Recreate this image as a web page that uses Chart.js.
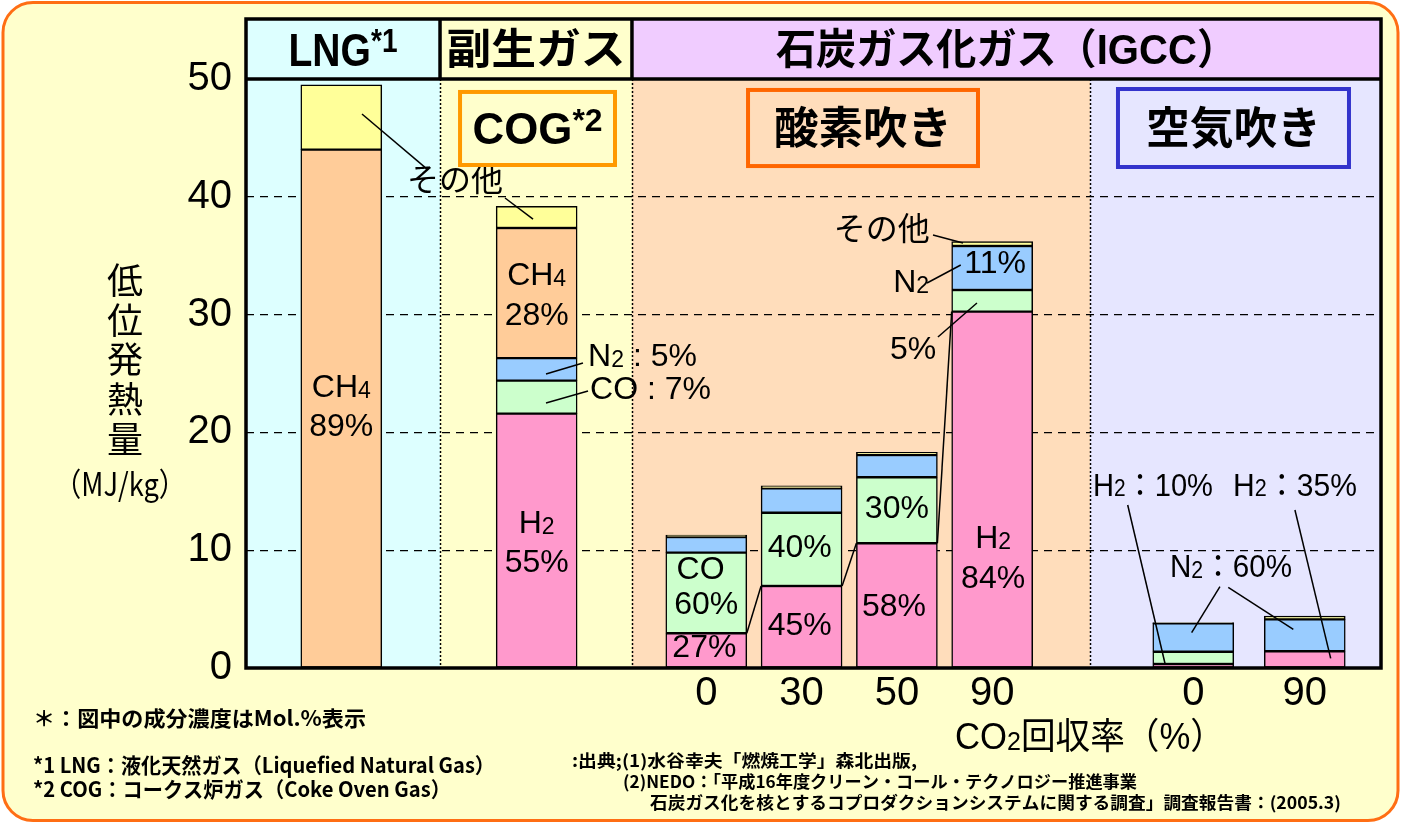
<!DOCTYPE html>
<html lang="ja">
<head>
<meta charset="utf-8">
<title>低位発熱量</title>
<script src="https://cdn.jsdelivr.net/npm/chart.js@4.4.1/dist/chart.umd.min.js"></script>
<style>
html, body { margin: 0; padding: 0; background: #fff; }
#wrap { width: 1402px; height: 823px; }
</style>
</head>
<body>
<div id="wrap"><canvas id="myChart" width="1402" height="823"></canvas></div>
<script>
// gas kinds, CO2 recovery ticks, and heating value per component (MJ/kg)
var categories = ["LNG", "COG", "酸素吹き0", "酸素吹き30", "酸素吹き50", "酸素吹き90", "空気吹き0", "空気吹き90"];
var tickLabels = ["", "", "0", "30", "50", "90", "0", "90"];
var yTicks = [0, 10, 20, 30, 40, 50];

var h2     = [null, 21.6, 2.95, 6.96, 10.59, 30.25, 0.34, 1.42];
var co     = [null, 2.8, 6.84, 6.22, 5.6, 1.84, 1.04, null];
var n2     = [null, 1.9, 1.33, 2.07, 1.89, 3.73, 2.41, 2.71];
var ch4    = [44.0, 11.05, null, null, null, null, null, null];
var others = [5.5, 1.85, 0.17, 0.22, 0.23, 0.37, 0.06, 0.28];

// where each bar sits on the x axis
var slots = [1.0, 3.05, 4.83, 5.83, 6.83, 7.83, 9.94, 11.11];
var X_MAX = 11.91;
var colEdges = [0, 2.036, 4.05, 8.856, X_MAX];
var colFill = ["#DDFFFF", "#FFFFCC", "#FFDDBB", "#E6E6FF"];

var LATIN = "'Liberation Sans', 'Noto Sans CJK JP', sans-serif";
var CJK = "'Noto Sans CJK JP', sans-serif";

// labels in and around the bars: x, y, text ("_" = subscript), optional fitted width
var notes = [
    [1.0, 24.0, "CH_4"], [1.0, 20.7, "89%"],
    [3.05, 33.45, "CH_4"], [3.05, 30.1, "28%"],
    [3.05, 12.4, "H_2"], [3.05, 9.1, "55%"],
    [4.77, 8.57, "CO"], [4.83, 5.6, "60%"], [4.81, 1.95, "27%"],
    [5.81, 10.36, "40%"], [5.81, 3.74, "45%"],
    [6.83, 13.67, "30%"], [6.80, 5.35, "58%"],
    [7.86, 34.47, "11%"], [7.84, 11.2, "H_2"], [7.84, 7.81, "84%"],
    [6.98, 32.9, "N_2"], [7.0, 27.25, "5%"],
    [2.193, 41.43, "その他"], [6.67, 37.35, "その他"],
    [9.517, 15.62, "H_2：10%", 120], [11.007, 15.62, "H_2：35%", 124], [10.336, 8.74, "N_2：60%", 122]
];
var leftNotes = [
    [3.59, 26.6, "N_2 : 5%"], [3.61, 23.8, "CO : 7%"]
];
var leaders = [
    [1.217, 47.03, 1.91, 42.28],
    [2.718, 39.9, 3.012, 38.1],
    [3.148, 24.96, 3.536, 25.89],
    [3.148, 22.5, 3.589, 23.51],
    [7.209, 36.76, 7.524, 36.08],
    [7.146, 32.68, 7.50, 34.21],
    [7.261, 28.1, 7.67, 30.98],
    [9.252, 13.84, 9.643, 0.4],
    [11.007, 13.41, 11.382, 0.82],
    [10.22, 6.9, 9.923, 3.0],
    [10.307, 6.85, 10.99, 3.28]
];
var boxes = [
    [2.246, 48.9, 3.872, 42.7, "#FF9900", "COG^*2", 130],
    [5.268, 49.07, 7.681, 42.61, "#FF6600", "酸素吹き", 178],
    [9.15, 49.15, 11.574, 42.53, "#3333CC", "空気吹き", 175]
];
var headers = [
    [0, 2.036, "#DDFFFF", "LNG^*1", 0],
    [2.036, 4.05, "#FFFFCC", "副生ガス", 179],
    [4.05, X_MAX, "#F0CCFF", "石炭ガス化ガス（IGCC）", 461]
];
var footnotes = [
    ["＊：図中の成分濃度はMol.%表示", 33, 718, 333, 21],
    ["*1 LNG：液化天然ガス（Liquefied Natural Gas）", 33, 765, 462, 21],
    ["*2 COG：コークス炉ガス（Coke Oven Gas）", 33, 789, 418, 21],
    [":出典;(1)水谷幸夫「燃焼工学」森北出版,", 572, 761, 345, 17],
    ["(2)NEDO：「平成16年度クリーン・コール・テクノロジー推進事業", 623, 782, 514, 17],
    ["石炭ガス化を核とするコプロダクションシステムに関する調査」調査報告書：(2005.3)", 650, 803, 691, 17]
];

// text with "_x" subscripts and a "^..." superscript tail, y is the visual middle
function rich(ctx, s, x, y, size, o) {
    o = o || {};
    var fam = o.fam || LATIN, weight = o.weight || "normal", align = o.align || "center";
    var segs = [];
    for (var i = 0; i < s.length; i++) {
        var c = s[i];
        if (c === "_") { segs.push({ t: s[++i], k: "sub" }); }
        else if (c === "^") { segs.push({ t: s.slice(i + 1), k: "sup" }); break; }
        else if (segs.length && segs[segs.length - 1].k === "n") { segs[segs.length - 1].t += c; }
        else { segs.push({ t: c, k: "n" }); }
    }
    var fontOf = function (g) {
        return weight + " " + (g.k === "n" ? size : Math.round(size * 0.72)) + "px " + fam;
    };
    var w = 0;
    segs.forEach(function (g) { ctx.font = fontOf(g); g.w = ctx.measureText(g.t).width; w += g.w; });
    var sx = o.width ? o.width / w : (o.sx || 1);
    ctx.save();
    ctx.translate(x, y);
    ctx.scale(sx, 1);
    ctx.fillStyle = "#000";
    ctx.textAlign = "left";
    ctx.textBaseline = "alphabetic";
    var cx = align === "center" ? -w / 2 : (align === "right" ? -w : 0);
    segs.forEach(function (g) {
        ctx.font = fontOf(g);
        var dy = g.k === "sub" ? size * 0.03 : (g.k === "sup" ? -size * 0.3 : 0);
        ctx.fillText(g.t, cx, size * 0.36 + dy);
        cx += g.w;
    });
    ctx.restore();
}

function line(ctx, x1, y1, x2, y2) {
    ctx.beginPath();
    ctx.moveTo(x1, y1);
    ctx.lineTo(x2, y2);
    ctx.stroke();
}

var decor = {
    id: "decor",
    beforeDraw: function (chart) {
        var ctx = chart.ctx, a = chart.chartArea, xs = chart.scales.x;
        ctx.save();
        ctx.fillStyle = "#fff";
        ctx.fillRect(0, 0, chart.width, chart.height);
        ctx.beginPath();
        ctx.roundRect(3, 2.5, 1395, 818, 30);
        ctx.fillStyle = "#FFFFCC";
        ctx.fill();
        ctx.lineWidth = 3;
        ctx.strokeStyle = "#FF6E14";
        ctx.stroke();
        for (var i = 0; i < colFill.length; i++) {
            var l = xs.getPixelForValue(colEdges[i]), r = xs.getPixelForValue(colEdges[i + 1]);
            ctx.fillStyle = colFill[i];
            ctx.fillRect(l, a.top, r - l, a.bottom - a.top);
        }
        headers.forEach(function (h) {
            var l = xs.getPixelForValue(h[0]), r = xs.getPixelForValue(h[1]);
            ctx.fillStyle = h[2];
            ctx.fillRect(l, 19, r - l, a.top - 19);
        });
        ctx.restore();
    },
    afterDraw: function (chart) {
        var ctx = chart.ctx, a = chart.chartArea;
        var xs = chart.scales.x, ys = chart.scales.y;
        var X = function (v) { return xs.getPixelForValue(v); };
        var Y = function (v) { return ys.getPixelForValue(v); };
        ctx.save();
        ctx.strokeStyle = "#000";

        // dotted column separators
        ctx.lineWidth = 1.5;
        ctx.setLineDash([2, 2]);
        [1, 2, 3].forEach(function (i) {
            var px = Math.round(X(colEdges[i])) + 0.5;
            line(ctx, px, a.top, px, a.bottom);
        });
        ctx.setLineDash([]);

        // H2 level joined across the oxygen-blown bars
        var bars = chart.getDatasetMeta(0).data;
        ctx.lineWidth = 1.5;
        for (var i = 2; i < 5; i++) {
            var b1 = bars[i], b2 = bars[i + 1];
            line(ctx, b1.x + b1.width / 2, b1.y, b2.x - b2.width / 2, b2.y);
        }

        leaders.forEach(function (p) { line(ctx, X(p[0]), Y(p[1]), X(p[2]), Y(p[3])); });

        notes.forEach(function (n) { rich(ctx, n[2], X(n[0]), Y(n[1]), 32, { width: n[3] }); });
        leftNotes.forEach(function (n) { rich(ctx, n[2], X(n[0]), Y(n[1]), 32, { align: "left" }); });

        boxes.forEach(function (b) {
            var l = X(b[0]), t = Y(b[1]), r = X(b[2]), btm = Y(b[3]);
            ctx.lineWidth = 4;
            ctx.strokeStyle = b[4];
            ctx.strokeRect(l, t, r - l, btm - t);
            rich(ctx, b[5], (l + r) / 2, (t + btm) / 2, 44, { weight: "bold", width: b[6] });
        });

        // header row and frame
        headers.forEach(function (h) {
            var cx = (X(h[0]) + X(h[1])) / 2;
            if (h[4]) rich(ctx, h[3], cx, 49, 42, { weight: "bold", width: h[4] });
            else rich(ctx, h[3], cx, 49, 46, { weight: "bold", sx: 0.85 });
        });
        ctx.strokeStyle = "#000";
        ctx.lineWidth = 3.5;
        ctx.strokeRect(a.left, 19, a.right - a.left, a.bottom - 19);
        line(ctx, a.left, a.top, a.right, a.top);
        [1, 2].forEach(function (i) { line(ctx, X(colEdges[i]), 19, X(colEdges[i]), a.top); });

        // axis titles
        ["低", "位", "発", "熱", "量"].forEach(function (c, i) {
            rich(ctx, c, 125, 281 + i * 39.7, 36, { fam: CJK });
        });
        rich(ctx, "（MJ/kg）", 120, 484, 32, { fam: CJK, width: 132 });
        rich(ctx, "CO_2回収率（%）", 955, 736, 36, { align: "left", width: 270 });

        footnotes.forEach(function (f) {
            rich(ctx, f[0], f[1], f[2], f[4], { fam: CJK, weight: "bold", align: "left", width: f[3] });
        });
        ctx.restore();
    }
};

function series(label, values, color) {
    return {
        label: label,
        data: values.map(function (v, i) { return { x: slots[i], y: v }; }),
        backgroundColor: color,
        borderColor: "#000",
        borderWidth: 1.5,
        borderSkipped: false,
        barThickness: 81
    };
}

var ctx = document.getElementById("myChart").getContext("2d");
var chart = new Chart(ctx, {
    type: "bar",
    data: {
        datasets: [
            series("H2", h2, "#FF99CC"),
            series("CO", co, "#CCFFCC"),
            series("N2", n2, "#99CCFF"),
            series("CH4", ch4, "#FFCC99"),
            series("その他", others, "#FFFF99")
        ]
    },
    options: {
        responsive: false,
        animation: false,
        layout: { padding: { top: 79, right: 21, bottom: 0, left: 0 } },
        plugins: { legend: { display: false }, tooltip: { enabled: false } },
        scales: {
            x: {
                type: "linear",
                stacked: true,
                offset: false,
                min: 0,
                max: X_MAX,
                grid: { display: false, drawTicks: false },
                border: { display: false },
                afterFit: function (s) { s.height = 155; },
                afterBuildTicks: function (s) {
                    s.ticks = slots.slice(2).map(function (v) { return { value: v }; });
                },
                ticks: {
                    autoSkip: false,
                    maxRotation: 0,
                    padding: 2,
                    color: "#000",
                    font: { family: LATIN, size: 40 },
                    callback: function (v, i) { return tickLabels[i + 2]; }
                }
            },
            y: {
                stacked: true,
                min: 0,
                max: 50,
                afterFit: function (s) { s.width = 246; },
                afterBuildTicks: function (s) {
                    s.ticks = yTicks.map(function (v) { return { value: v }; });
                },
                grid: {
                    drawTicks: false,
                    lineWidth: 1.3,
                    color: function (c) {
                        return (c.tick && (c.tick.value === 0 || c.tick.value === 50)) ? "rgba(0,0,0,0)" : "#000";
                    }
                },
                border: { display: false, dash: [8, 6] },
                ticks: {
                    padding: 14,
                    color: "#000",
                    font: { family: LATIN, size: 40 }
                }
            }
        }
    },
    plugins: [decor]
});
</script>
</body>
</html>
